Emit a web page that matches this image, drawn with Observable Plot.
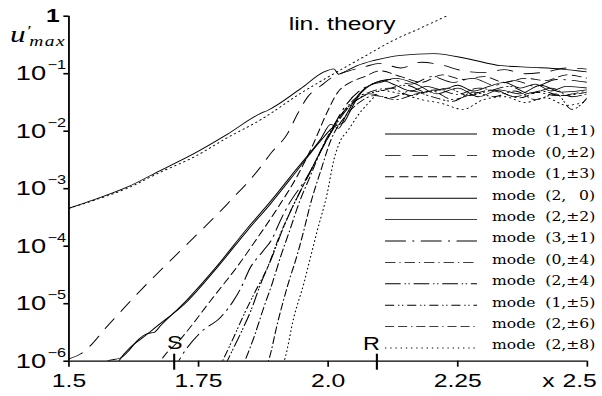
<!DOCTYPE html>
<html><head><meta charset="utf-8">
<script src="https://cdn.jsdelivr.net/npm/d3@7"></script>
<script src="https://cdn.jsdelivr.net/npm/@observablehq/plot@0.6"></script>
<style>
html,body{margin:0;padding:0;background:#fff;}
#chart svg{display:block;}
</style></head><body><div id="chart"></div>
<script>
// ---- data (x, log10 u'_max) ----
const linTheoryX   = [1.5, 1.546, 1.613, 1.677, 1.741, 1.806, 1.870, 1.947, 2.011, 2.07, 2.126, 2.18, 2.23];
const linTheoryLog = [-3.34, -3.21, -2.99, -2.71, -2.45, -2.11, -1.80, -1.34, -1.00, -0.70, -0.42, -0.20, 0.01];

const m11X = [1.5, 1.546, 1.613, 1.677, 1.741, 1.806, 1.870, 1.883, 1.947, 1.992, 2.011, 2.020, 2.037, 2.056, 2.088, 2.140, 2.204, 2.269, 2.333, 2.397, 2.45, 2.5];
const m11L = [-3.34, -3.20, -2.97, -2.68, -2.39, -2.05, -1.69, -1.64, -1.26, -0.97, -0.915, -1.01, -0.94, -0.86, -0.77, -0.68, -0.65, -0.74, -0.86, -0.89, -0.92, -0.97];

const m02X = [1.5, 1.523, 1.58, 1.638, 1.716, 1.806, 1.870, 1.889, 1.921, 1.941, 1.960, 1.986, 2.01, 2.04, 2.07, 2.10, 2.14, 2.18, 2.22, 2.26, 2.30, 2.34, 2.38, 2.42, 2.46, 2.50];
const m02L = [-5.96, -5.87, -5.33, -4.77, -4.07, -3.26, -2.62, -2.39, -2.05, -1.70, -1.41, -1.21, -1.05, -0.95, -0.88, -0.82, -0.90, -0.80, -0.85, -0.95, -0.98, -0.93, -1.00, -0.97, -0.90, -0.92];

const m13X = [1.66, 1.677, 1.716, 1.779, 1.825, 1.864, 1.903, 1.941, 1.970, 1.995, 2.018, 2.043, 2.07, 2.10, 2.14, 2.18, 2.22, 2.26, 2.30, 2.34, 2.38, 2.42, 2.46, 2.50];
const m13L = [-6.3, -6.0, -5.61, -4.88, -4.35, -3.85, -3.33, -2.77, -2.25, -1.73, -1.33, -1.15, -1.05, -0.95, -1.05, -1.15, -1.02, -1.10, -1.05, -1.15, -1.08, -1.12, -1.02, -1.08];

const m20X = [1.58, 1.596, 1.658, 1.728, 1.786, 1.844, 1.889, 1.937, 1.986, 2.011, 2.030, 2.043, 2.057, 2.088, 2.105, 2.13, 2.16, 2.19, 2.22, 2.25, 2.28, 2.31, 2.34, 2.37, 2.40, 2.43, 2.46, 2.50];
const m20L = [-6.25, -6.0, -5.48, -4.96, -4.37, -3.73, -3.26, -2.72, -2.16, -1.92, -1.85, -1.64, -1.41, -1.17, -1.12, -1.20, -1.30, -1.22, -1.28, -1.20, -1.30, -1.22, -1.15, -1.25, -1.18, -1.30, -1.22, -1.25];

const m22X = [1.56, 1.574, 1.600, 1.613, 1.632, 1.651, 1.664, 1.677, 1.728, 1.786, 1.844, 1.889, 1.937, 1.986, 2.005, 2.020, 2.034, 2.053, 2.078, 2.101, 2.13, 2.17, 2.21, 2.25, 2.29, 2.33, 2.37, 2.41, 2.45, 2.50];
const m22L = [-6.1, -6.0, -5.94, -5.84, -5.64, -5.52, -5.50, -5.38, -4.93, -4.34, -3.69, -3.22, -2.68, -2.13, -1.88, -1.95, -1.73, -1.43, -1.21, -1.15, -1.08, -1.18, -1.35, -1.25, -1.40, -1.28, -1.35, -1.20, -1.32, -1.28];

const m31X = [1.70, 1.716, 1.754, 1.793, 1.818, 1.831, 1.850, 1.873, 1.892, 1.908, 1.921, 1.963, 1.986, 2.011, 2.034, 2.06, 2.08, 2.12, 2.16, 2.20, 2.24, 2.28, 2.32, 2.36, 2.40, 2.44, 2.50];
const m31L = [-6.2, -5.93, -5.50, -5.23, -4.94, -4.74, -4.37, -4.10, -3.87, -3.55, -3.32, -2.74, -2.34, -1.90, -1.55, -1.30, -1.20, -1.10, -1.18, -1.05, -1.15, -1.08, -1.20, -1.12, -1.22, -1.10, -1.15];

const m04X = [1.83, 1.841, 1.857, 1.876, 1.892, 1.908, 1.928, 1.941, 1.966, 1.995, 2.024, 2.05, 2.08, 2.12, 2.16, 2.20, 2.24, 2.28, 2.32, 2.36, 2.40, 2.44, 2.50];
const m04L = [-6.2, -5.96, -5.58, -5.06, -4.65, -4.19, -3.67, -3.32, -2.77, -2.16, -1.73, -1.45, -1.32, -1.25, -1.38, -1.30, -1.45, -1.35, -1.28, -1.40, -1.32, -1.38, -1.30];

const m24X = [1.80, 1.809, 1.831, 1.851, 1.870, 1.889, 1.914, 1.928, 1.957, 1.986, 2.014, 2.043, 2.07, 2.11, 2.15, 2.19, 2.23, 2.27, 2.31, 2.35, 2.39, 2.43, 2.47, 2.50];
const m24L = [-6.1, -5.93, -5.52, -5.12, -4.65, -4.25, -3.67, -3.38, -2.86, -2.34, -1.90, -1.55, -1.38, -1.28, -1.20, -1.32, -1.25, -1.38, -1.30, -1.22, -1.35, -1.25, -1.40, -1.35];

const m15X = [1.785, 1.796, 1.818, 1.838, 1.857, 1.883, 1.908, 1.928, 1.966, 1.997, 2.024, 2.053, 2.08, 2.12, 2.16, 2.20, 2.24, 2.28, 2.32, 2.36, 2.40, 2.44, 2.47, 2.50];
const m15L = [-6.2, -6.0, -5.58, -5.18, -4.83, -4.37, -3.78, -3.38, -2.69, -2.16, -1.73, -1.47, -1.35, -1.42, -1.30, -1.40, -1.48, -1.32, -1.40, -1.30, -1.45, -1.35, -1.62, -1.42];

const m26X = [1.88, 1.886, 1.902, 1.921, 1.941, 1.953, 1.966, 1.986, 2.005, 2.034, 2.06, 2.09, 2.13, 2.17, 2.21, 2.25, 2.29, 2.33, 2.37, 2.41, 2.45, 2.50];
const m26L = [-6.1, -5.96, -5.35, -4.71, -4.13, -3.73, -3.26, -2.68, -2.16, -1.73, -1.50, -1.38, -1.45, -1.35, -1.28, -1.36, -1.25, -1.32, -1.42, -1.30, -1.38, -1.32];

const m28X = [1.91, 1.915, 1.934, 1.953, 1.966, 1.979, 1.998, 2.011, 2.024, 2.038, 2.057, 2.088, 2.101, 2.14, 2.18, 2.22, 2.26, 2.30, 2.34, 2.38, 2.42, 2.46, 2.50];
const m28L = [-6.1, -6.0, -5.23, -4.65, -4.19, -3.73, -3.09, -2.50, -2.16, -1.99, -1.73, -1.41, -1.29, -1.35, -1.45, -1.52, -1.62, -1.45, -1.40, -1.50, -1.42, -1.55, -1.48];

const modeLabels = ["(1,±1)", "(0,±2)", "(1,±3)", "(2,\u2002 0)", "(2,±2)", "(3,±1)", "(0,±4)", "(2,±4)", "(1,±5)", "(2,±6)", "(2,±8)"];
const xTickValues = [1.5, 1.75, 2.0, 2.25, 2.5];
const xTickLabels = ["1.5", "1.75", "2.0", "2.25", "2.5"];
const yExponents = [-6, -5, -4, -3, -2, -1];
const markers = [{label: "S", x: 1.703}, {label: "R", x: 2.094}];
const annotations = [{label: "lin. theory", x: 2.027}, {label: "x", x: 2.425}];

// ---- layout (SVG drawn narrow and stretched horizontally, like the original) ----
const W = 602, H = 396, SX = 1.3;
const IW = W / SX;
const mLeft = 68.3 / SX, mRight = (W - 586.7) / SX, mTop = 15.7, mBottom = 35.3;
const frameH = H - mTop - mBottom;

const dashes = ["none", "12,9", "7,4", "none", "none", "16,5,1.5,5", "8,3,1,3", "12,3,1,2,1,3", "7,3,1,2,1,3", "7,3,7,3,1,3", "1,3"];
const seriesX = [m11X, m02X, m13X, m20X, m22X, m31X, m04X, m24X, m15X, m26X, m28X];
const seriesL = [m11L, m02L, m13L, m20L, m22L, m31L, m04L, m24L, m15L, m26L, m28L];

const toRows = (xs, ls) => xs.map((x, i) => ({x, u: Math.pow(10, ls[i])}));

const lineMarks = seriesX.map((xs, k) => Plot.line(toRows(xs, seriesL[k]), {
  x: "x", y: "u", stroke: "#000", strokeWidth: 0.85,
  strokeDasharray: dashes[k] === "none" ? null : dashes[k],
  curve: "monotone-x", clip: true
}));
lineMarks.push(Plot.line(toRows(linTheoryX, linTheoryLog), {
  x: "x", y: "u", stroke: "#000", strokeWidth: 0.9, strokeDasharray: "1,3", curve: "monotone-x", clip: true
}));

const lastTick = xTickValues[xTickValues.length - 1];
const svg = Plot.plot({
  width: IW, height: H,
  marginLeft: mLeft, marginRight: mRight, marginTop: mTop, marginBottom: mBottom,
  style: {fontFamily: "'Liberation Sans', Arial, sans-serif", fontSize: "19px", background: "#fff", color: "#000"},
  x: {domain: [xTickValues[0], lastTick]},
  y: {type: "log", domain: [1e-6, 1]},
  marks: [
    ...lineMarks,
    Plot.ruleX([xTickValues[0]], {stroke: "#000", strokeWidth: 1.4}),
    Plot.ruleY([1e-6], {stroke: "#000", strokeWidth: 1.3}),
    Plot.axisX({ticks: xTickValues, tickFormat: () => "", tickSize: 6, label: null, strokeWidth: 1.3}),
    Plot.text(xTickValues.filter(d => d !== lastTick), {x: d => d, text: d => xTickLabels[xTickValues.indexOf(d)], frameAnchor: "bottom", lineAnchor: "bottom", dy: 26, fontSize: 19}),
    Plot.text([lastTick], {x: d => d, text: d => xTickLabels[xTickValues.indexOf(d)], frameAnchor: "bottom", lineAnchor: "bottom", dy: 26, dx: -5.9, fontSize: 19}),
    Plot.axisY({ticks: [...yExponents.map(e => Math.pow(10, e)), 1], tickSize: 3.8, tickFormat: () => "", label: null, strokeWidth: 1.6}),
    Plot.text(yExponents, {y: e => Math.pow(10, e), text: () => "10", frameAnchor: "left", textAnchor: "end", dx: -17.6, fontSize: 21}),
    Plot.text(yExponents, {y: e => Math.pow(10, e), text: e => "\u2212" + Math.abs(e), frameAnchor: "left", textAnchor: "start", dx: -16.5, dy: -8.5, fontSize: 12.5}),
    Plot.text([1], {y: d => d, text: () => "1", frameAnchor: "left", textAnchor: "end", dx: -7.1, fontSize: 19, fontWeight: "bold"}),
    Plot.tickX(markers, {x: "x", insetTop: frameH - 7, insetBottom: -9, stroke: "#000", strokeWidth: 1.6}),
    Plot.text(markers.filter(m => m.label === "S"), {x: "x", text: "label", frameAnchor: "bottom", lineAnchor: "bottom", dy: -12.4, dx: 0.5, fontSize: 18}),
    Plot.text(markers.filter(m => m.label === "R"), {x: "x", text: "label", frameAnchor: "bottom", lineAnchor: "bottom", dy: -11, dx: -4.2, fontSize: 18}),
    Plot.text(annotations.filter(a => a.label !== "x"), {x: "x", text: "label", frameAnchor: "top", lineAnchor: "bottom", dy: 13.3, fontSize: 19}),
    Plot.text(annotations.filter(a => a.label === "x"), {x: "x", text: "label", frameAnchor: "bottom", lineAnchor: "bottom", dy: 26, fontSize: 19})
  ]
});

// y label u'_max
const s = d3.select(svg);
const serif = "'Liberation Serif', serif";
s.append("text").attr("x", 7.7).attr("y", 41.7).attr("text-anchor", "start").attr("font-family", serif)
  .attr("font-style", "italic").attr("font-size", 24).text("u");
s.append("text").attr("x", 20.2).attr("y", 36).attr("text-anchor", "start").attr("font-family", serif)
  .attr("font-style", "italic").attr("font-size", 15).text("\u2032");
s.append("text").attr("x", 22.6).attr("y", 46).attr("text-anchor", "start").attr("font-family", serif)
  .attr("font-style", "italic").attr("font-size", 15).attr("letter-spacing", 1.1).text("max");

// legend
const lg = s.append("g").attr("font-family", "'DejaVu Serif', serif").attr("font-size", 12).attr("text-anchor", "start");
modeLabels.forEach((lab, i) => {
  const y = 134 + i * 21.4;
  lg.append("line").attr("x1", 296.2).attr("x2", 366.9).attr("y1", y).attr("y2", y)
    .attr("stroke", "#000").attr("stroke-width", 0.9)
    .attr("stroke-dasharray", dashes[i] === "none" ? null : dashes[i]);
  lg.append("text").attr("x", 378.5).attr("y", y + 1.5).style("white-space", "pre").text("mode  " + lab);
});

svg.setAttribute("width", W);
svg.setAttribute("height", H);
svg.setAttribute("viewBox", `0 0 ${IW} ${H}`);
svg.setAttribute("preserveAspectRatio", "none");
svg.style.maxWidth = "none";
svg.style.width = W + "px";
svg.style.height = H + "px";
document.getElementById("chart").appendChild(svg);
</script></body></html>
